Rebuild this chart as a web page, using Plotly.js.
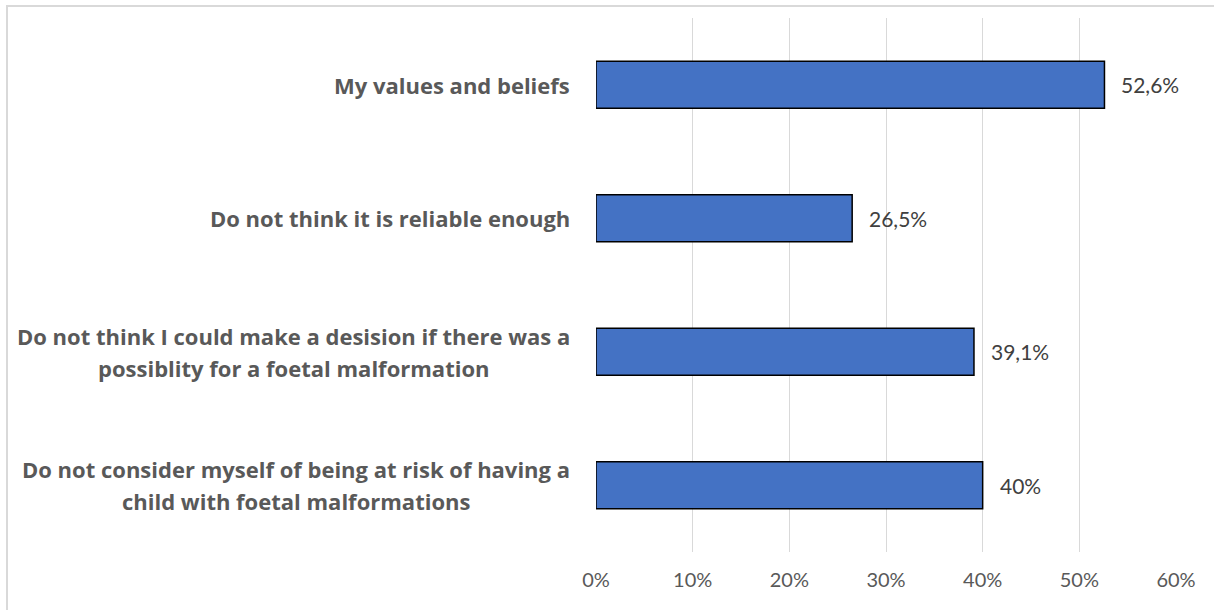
<!DOCTYPE html>
<html>
<head>
<meta charset="utf-8">
<script src="https://cdn.plot.ly/plotly-3.0.1.min.js"></script>
<style>
  html, body { margin: 0; padding: 0; background: #fff; overflow: hidden; }
  #chart { width: 1214px; height: 610px; }
  #frame { position: absolute; left: 6px; top: 5px; width: 1400px; height: 800px;
           border: 2px solid #d9d9d9; pointer-events: none; box-sizing: border-box; }
</style>
</head>
<body>
<div id="chart"></div>
<div id="frame"></div>
<script>
// ---- data (top to bottom as in the chart) ----
const categories = [
  "My values and beliefs",
  "Do not think it is reliable enough",
  "Do not think I could make a desision if there was a possiblity for a foetal malformation",
  "Do not consider myself of being at risk of having a child with foetal malformations"
];
const categoryLines = [
  ["My values and beliefs"],
  ["Do not think it is reliable enough"],
  ["Do not think I could make a desision if there was a", "possiblity for a foetal malformation"],
  ["Do not consider myself of being at risk of having a", "child with foetal malformations"]
];
const values = [52.6, 26.5, 39.1, 40];
const valueLabels = ["52,6%", "26,5%", "39,1%", "40%"];
const tickValues = [0, 10, 20, 30, 40, 50, 60];
const tickLabels = ["0%", "10%", "20%", "30%", "40%", "50%", "60%"];

// ---- styling ----
const FONT = "Lato, 'Open Sans', sans-serif";
const CAT_FONT_NAME = "Open Sans";
const catFontSize = 22;
const lineGap = 32;
const labelRightPx = 570;   // right edge of category text block (px)
const plotLeft = 596;

const ctx = document.createElement('canvas').getContext('2d');
ctx.font = "bold " + catFontSize + "px '" + CAT_FONT_NAME + "'";

const annotations = [];
categoryLines.forEach((lines, i) => {
  const widths = lines.map(l => ctx.measureText(l).width);
  const maxW = Math.max.apply(null, widths);
  const centerOffset = -(plotLeft - labelRightPx) - maxW / 2;
  lines.forEach((line, j) => {
    const yshift = -((j - (lines.length - 1) / 2) * lineGap);
    annotations.push({
      x: 0, xref: 'paper', y: categories[i], yref: 'y',
      text: line, showarrow: false,
      xanchor: 'center', yanchor: 'middle',
      xshift: centerOffset, yshift: yshift,
      font: { family: "'" + CAT_FONT_NAME + "', sans-serif", size: catFontSize, color: '#595959', weight: 'bold' }
    });
  });
});
values.forEach((v, i) => {
  annotations.push({
    x: v, xref: 'x', y: categories[i], yref: 'y',
    text: valueLabels[i], showarrow: false,
    xanchor: 'left', yanchor: 'middle', xshift: 15,
    font: { family: FONT, size: 21, color: '#404040' }
  });
});

const trace = {
  type: 'bar', orientation: 'h',
  x: values, y: categories,
  width: 0.353,
  marker: { color: '#4472C4', line: { color: '#000000', width: 1.5 } },
  hoverinfo: 'none'
};

const layout = {
  width: 1214, height: 610,
  margin: { l: 596, r: 38, t: 18, b: 58, pad: 0 },
  paper_bgcolor: '#ffffff', plot_bgcolor: '#ffffff',
  showlegend: false,
  font: { family: FONT },
  xaxis: {
    range: [0, 60], tickvals: tickValues, ticktext: tickLabels,
    showgrid: true, gridcolor: '#d9d9d9', gridwidth: 1,
    zeroline: false, showline: false, ticks: '',
    ticklabelstandoff: 14,
    tickfont: { family: FONT, size: 20, color: '#595959' },
    fixedrange: true
  },
  yaxis: {
    type: 'category', autorange: 'reversed',
    showticklabels: false, showgrid: false, zeroline: false, showline: false,
    fixedrange: true
  },
  annotations: annotations
};

Plotly.newPlot('chart', [trace], layout, { staticPlot: true, displayModeBar: false });
</script>
</body>
</html>
